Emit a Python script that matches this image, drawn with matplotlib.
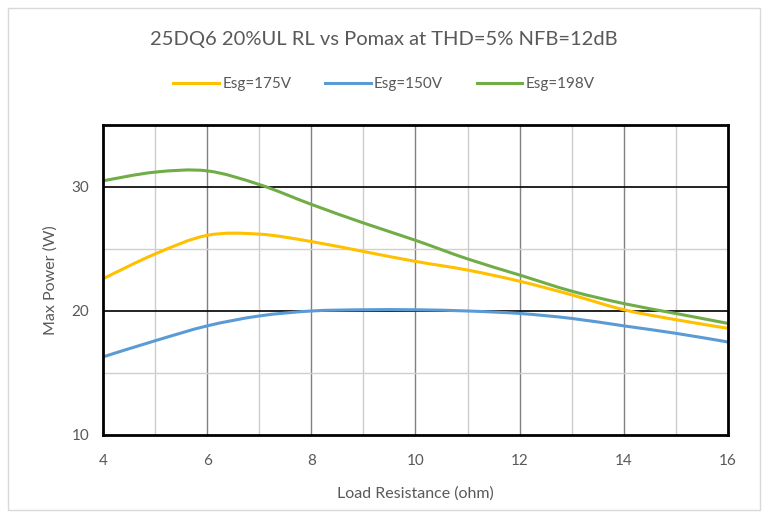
import matplotlib
matplotlib.use("Agg")
import matplotlib.pyplot as plt
from matplotlib.path import Path
from matplotlib.patches import PathPatch, Rectangle
from matplotlib.lines import Line2D
import numpy as np

plt.rcParams['font.family'] = ['Lato', 'DejaVu Sans']

title = "25DQ6 20%UL RL vs Pomax at THD=5% NFB=12dB"
load_ohm = [4, 5, 6, 7, 8, 9, 10, 11, 12, 13, 14, 15, 16]
esg175 = [22.6, 24.6, 26.1, 26.2, 25.6, 24.8, 24.0, 23.3, 22.4, 21.3, 20.1, 19.3, 18.6]
esg150 = [16.3, 17.6, 18.8, 19.6, 20.0, 20.1, 20.1, 20.0, 19.8, 19.4, 18.8, 18.2, 17.5]
esg198 = [30.5, 31.2, 31.3, 30.2, 28.6, 27.1, 25.7, 24.2, 22.9, 21.6, 20.6, 19.8, 19.0]
series = [("Esg=175V", esg175, "#FFC000"),
          ("Esg=150V", esg150, "#5B9BD5"),
          ("Esg=198V", esg198, "#70AD47")]

fig = plt.figure(figsize=(7.68, 5.18), dpi=100)
fig.patches.append(Rectangle((8/768, 8/518), 752/768, 502/518, transform=fig.transFigure,
                             fill=False, edgecolor="#d9d9d9", linewidth=1))
ax = fig.add_axes([103/768, 83/518, 625/768, 310/518])
ax.set_xlim(4, 16)
ax.set_ylim(10, 35)

# grid
for xv in range(5, 16):
    ax.axvline(xv, color="#808080" if xv % 2 == 0 else "#cccccc", lw=1.0, zorder=1)
for yv in (15, 25):
    ax.axhline(yv, color="#d0d0d0", lw=1.0, zorder=1)
for yv in (20, 30):
    ax.axhline(yv, color="#111111", lw=1.3, zorder=1)


def smooth_path(xs, ys):
    xs = np.asarray(xs, float); ys = np.asarray(ys, float)
    verts = [(xs[0], ys[0])]
    codes = [Path.MOVETO]
    n = len(xs)
    for i in range(n - 1):
        p0 = (xs[max(i - 1, 0)], ys[max(i - 1, 0)])
        p1 = (xs[i], ys[i])
        p2 = (xs[i + 1], ys[i + 1])
        p3 = (xs[min(i + 2, n - 1)], ys[min(i + 2, n - 1)])
        t = 1 / 6
        c1 = (p1[0] + (p2[0] - p0[0]) * t, p1[1] + (p2[1] - p0[1]) * t)
        c2 = (p2[0] - (p3[0] - p1[0]) * t, p2[1] - (p3[1] - p1[1]) * t)
        verts += [c1, c2, p2]
        codes += [Path.CURVE4] * 3
    return Path(verts, codes)


handles = []
for label, ys, col in series:
    patch = PathPatch(smooth_path(load_ohm, ys), facecolor="none", edgecolor=col,
                      lw=2.2, zorder=3, capstyle="round", joinstyle="round")
    ax.add_patch(patch)
    handles.append(Line2D([], [], color=col, lw=2.2, label=label))

for s in ax.spines.values():
    s.set_color("black")
    s.set_linewidth(2.0)
    s.set_zorder(4)

ax.set_xticks(range(4, 17, 2))
ax.set_yticks([10, 20, 30])
ax.tick_params(axis="x", length=0, labelsize=11, labelcolor="#595959", pad=14)
ax.tick_params(axis="y", length=0, labelsize=11, labelcolor="#595959", pad=10)
ax.set_xlabel("Load Resistance (ohm)", fontsize=11.5, color="#595959", labelpad=13)
ax.set_ylabel("Max Power (W)", fontsize=11.5, color="#595959", labelpad=10)

fig.text(0.5, 1 - 40/518, title, ha="center", va="center", fontsize=14.5, color="#595959")
fig.legend(handles=handles, loc="center", bbox_to_anchor=(0.5, 1 - 84/518), ncol=3,
           frameon=False, fontsize=11, labelcolor="#595959", handlelength=3.0,
           handletextpad=0.2, columnspacing=2.2)

fig.savefig("out.png", dpi=100)
